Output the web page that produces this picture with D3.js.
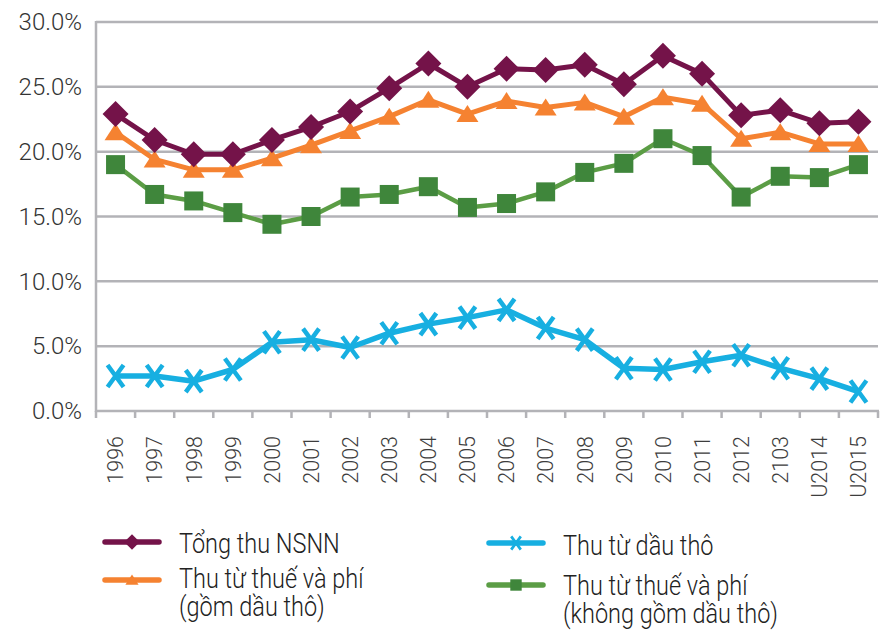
<!doctype html>
<html>
<head>
    <meta charset="utf-8">
    <title>Thu NSNN</title>
    <script src="https://cdn.jsdelivr.net/npm/d3@7/dist/d3.min.js"></script>
    <style>
        body { margin: 0; background: #fff; }
        svg { display: block; }
    </style>
</head>
<body>
<svg></svg>
<script>

    // data (% of GDP)
    var years = ['1996','1997','1998','1999','2000','2001','2002','2003','2004','2005',
                 '2006','2007','2008','2009','2010','2011','2012','2103','U2014','U2015'];
    var tongThu  = [22.9, 20.9, 19.8, 19.8, 20.9, 21.9, 23.1, 24.9, 26.8, 25.0,
                    26.4, 26.3, 26.7, 25.2, 27.4, 26.0, 22.8, 23.2, 22.2, 22.3];
    var thueGom  = [21.5, 19.4, 18.6, 18.6, 19.5, 20.5, 21.6, 22.7, 24.0, 22.9,
                    23.9, 23.4, 23.8, 22.7, 24.2, 23.7, 21.0, 21.5, 20.6, 20.6];
    var dauTho   = [2.7, 2.7, 2.3, 3.2, 5.3, 5.5, 4.9, 6.0, 6.7, 7.2,
                    7.8, 6.4, 5.5, 3.3, 3.2, 3.8, 4.3, 3.3, 2.5, 1.5];
    var thueKhong = [19.0, 16.7, 16.2, 15.3, 14.4, 15.0, 16.5, 16.7, 17.3, 15.7,
                     16.0, 16.9, 18.4, 19.1, 21.0, 19.7, 16.5, 18.1, 18.0, 19.0];
    var yTicks = [0, 5, 10, 15, 20, 25, 30];

    var svgWidth = 882, svgHeight = 634;
    var plotLeft = 96, plotRight = 878, plotTop = 22, plotBottom = 411;

    var svg = d3.select('svg')
        .attr('width', svgWidth)
        .attr('height', svgHeight);

    var x = d3.scaleBand().domain(years).range([plotLeft, plotRight]);
    var y = d3.scaleLinear().domain([0, 30]).range([plotBottom, plotTop]);

    var gridColor = '#b3b3b7';
    var labelFont = 'Roboto, sans-serif';

    // horizontal gridlines
    svg.append('g').selectAll('line')
        .data(yTicks.filter(function (d) { return d > 0; }))
        .enter().append('line')
        .attr('x1', plotLeft).attr('x2', plotRight)
        .attr('y1', function (d) { return y(d); })
        .attr('y2', function (d) { return y(d); })
        .attr('stroke', gridColor)
        .attr('stroke-width', 2.5);

    // y axis
    var yAxis = d3.axisLeft(y).tickValues(yTicks).tickSize(0).tickPadding(14)
        .tickFormat(function (d) { return d.toFixed(1) + '%'; });
    var gy = svg.append('g')
        .attr('transform', 'translate(' + plotLeft + ',0)')
        .call(yAxis);
    gy.select('.domain').remove();
    gy.selectAll('text')
        .attr('font-family', labelFont)
        .attr('font-weight', 300)
        .attr('font-size', 24)
        .attr('fill', '#333');
    svg.append('line')
        .attr('x1', plotLeft).attr('x2', plotLeft)
        .attr('y1', plotTop - 1).attr('y2', plotBottom + 1)
        .attr('stroke', gridColor).attr('stroke-width', 2.5);

    // x axis
    var xAxis = d3.axisBottom(x).tickSize(0).tickPadding(0);
    var gx = svg.append('g')
        .attr('transform', 'translate(0,' + plotBottom + ')')
        .call(xAxis);
    gx.select('.domain').remove();
    gx.selectAll('text')
        .attr('font-family', labelFont)
        .attr('font-weight', 300)
        .attr('font-size', 21.5)
        .attr('fill', '#3d3d3d')
        .attr('text-anchor', 'end')
        .attr('transform', 'translate(0,25) rotate(-90)')
        .attr('dy', '0.36em')
        .attr('x', 0).attr('y', 0);
    svg.append('line')
        .attr('x1', plotLeft - 1).attr('x2', plotRight + 1)
        .attr('y1', plotBottom).attr('y2', plotBottom)
        .attr('stroke', gridColor).attr('stroke-width', 2.5);
    svg.append('g').selectAll('line')
        .data(years.concat(['end']))
        .enter().append('line')
        .attr('x1', function (d, i) { return plotLeft + i * x.bandwidth(); })
        .attr('x2', function (d, i) { return plotLeft + i * x.bandwidth(); })
        .attr('y1', plotBottom).attr('y2', plotBottom + 7)
        .attr('stroke', gridColor).attr('stroke-width', 2.5);

    var cx = function (d, i) { return x(years[i]) + x.bandwidth() / 2; };

    var series = [
        { name: 'Tổng thu NSNN', values: tongThu, line: '#741349', fill: '#741349', w: 5, shape: 'diamond' },
        { name: 'Thu từ thuế và phí', sub: '(gồm dầu thô)', values: thueGom, line: '#f58231', fill: '#f58231', w: 5, shape: 'triangle' },
        { name: 'Thu từ dầu thô', values: dauTho, line: '#17afe1', fill: '#17afe1', w: 5.5, shape: 'x' },
        { name: 'Thu từ thuế và phí', sub: '(không gồm dầu thô)', values: thueKhong, line: '#5b9d45', fill: '#3f863b', w: 4.5, shape: 'square' }
    ];

    function drawMarker(g, shape, color) {
        if (shape === 'diamond') {
            g.append('path').attr('d', 'M0,-13L13,0L0,13L-13,0Z').attr('fill', color);
        } else if (shape === 'triangle') {
            g.append('path').attr('d', 'M0,-9L11,8L-11,8Z').attr('fill', color);
        } else if (shape === 'square') {
            g.append('rect').attr('x', -9.5).attr('y', -9.5).attr('width', 19).attr('height', 19).attr('fill', color);
        } else {
            g.append('path').attr('d', 'M-8,-11L8,11M8,-11L-8,11')
                .attr('stroke', color).attr('stroke-width', 4.5).attr('fill', 'none');
        }
    }

    var line = d3.line()
        .x(cx)
        .y(function (d) { return y(d); });

    // draw in order so purple is on top
    [3, 2, 1, 0].forEach(function (k) {
        var s = series[k];
        svg.append('path')
            .datum(s.values)
            .attr('d', line)
            .attr('fill', 'none')
            .attr('stroke', s.line)
            .attr('stroke-width', s.w)
            .attr('stroke-linejoin', 'round');
        svg.append('g').selectAll('g')
            .data(s.values)
            .enter().append('g')
            .attr('transform', function (d, i) { return 'translate(' + cx(d, i) + ',' + y(d) + ')'; })
            .each(function () { drawMarker(d3.select(this), s.shape, s.fill); });
    });

    // legend: [lineX, lineY, textBaseline]
    var legendPos = [[105, 542, 553], [105, 580, 588], [489, 543, 555], [489, 585, 595]];
    series.forEach(function (s, k) {
        var p = legendPos[k];
        var g = svg.append('g');
        g.append('line').attr('x1', p[0]).attr('x2', p[0] + 54).attr('y1', p[1]).attr('y2', p[1])
            .attr('stroke', s.line).attr('stroke-width', 5.5).attr('stroke-linecap', 'round');
        var m = g.append('g').attr('transform', 'translate(' + (p[0] + 27) + ',' + p[1] + ') scale(0.6)');
        drawMarker(m, s.shape, s.fill);
        var t = g.append('text')
            .attr('transform', 'translate(' + (p[0] + 74) + ',' + p[2] + ') scale(0.87,1)')
            .attr('font-family', labelFont)
            .attr('font-weight', 300)
            .attr('font-size', 27)
            .attr('fill', '#222');
        t.append('tspan').attr('x', 0).attr('y', 0).text(s.name);
        if (s.sub) t.append('tspan').attr('x', 0).attr('y', 28.5).text(s.sub);
    });

</script>
</body>
</html>
